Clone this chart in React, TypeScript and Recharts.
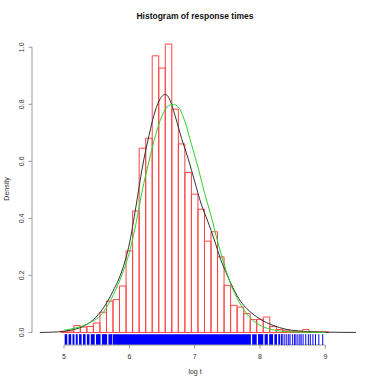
import { ComposedChart, Line, XAxis, YAxis, ReferenceArea, ReferenceLine } from "recharts";

// histogram of log t, bin width 0.1 (values are densities)
const binCenters = [
  5.0, 5.1, 5.2, 5.3, 5.4, 5.5, 5.6, 5.7, 5.8, 5.9,
  6.0, 6.1, 6.2, 6.3, 6.4, 6.5, 6.6, 6.7, 6.8, 6.9,
  7.0, 7.1, 7.2, 7.3, 7.4, 7.5, 7.6, 7.7, 7.8, 7.9,
  8.0, 8.1, 8.2, 8.3, 8.4, 8.5, 8.6, 8.7, 8.8, 8.9, 9.0,
];
const binDensity = [
  0.004, 0.005, 0.024, 0.019, 0.021, 0.033, 0.071, 0.11, 0.115, 0.163,
  0.286, 0.426, 0.646, 0.681, 0.97, 0.927, 1.011, 0.783, 0.661, 0.561,
  0.485, 0.432, 0.32, 0.353, 0.265, 0.165, 0.095, 0.089, 0.066, 0.045,
  0.046, 0.054, 0.021, 0.01, 0.008, 0.004, 0.004, 0.01, 0.003, 0.002, 0.002,
];
const binWidth = 0.1;

// kernel density estimate (black)
const kdeX = [
  4.63, 4.9, 5.1, 5.3, 5.45, 5.6, 5.75, 5.9, 6.0, 6.1, 6.2, 6.3, 6.4, 6.5, 6.55,
  6.6, 6.7, 6.8, 6.9, 7.0, 7.1, 7.2, 7.3, 7.4, 7.5, 7.6, 7.7, 7.8, 7.9, 8.0,
  8.2, 8.4, 8.6, 8.8, 9.0, 9.47,
];
const kdeY = [
  0.0, 0.002, 0.008, 0.022, 0.045, 0.085, 0.145, 0.225, 0.31, 0.44, 0.58, 0.69, 0.78, 0.828, 0.835,
  0.825, 0.76, 0.68, 0.61, 0.53, 0.45, 0.39, 0.325, 0.255, 0.2, 0.15, 0.11, 0.083, 0.063, 0.047,
  0.025, 0.011, 0.005, 0.002, 0.001, 0.0,
];

// fitted normal density (green)
const normX = [
  5.0, 5.2, 5.4, 5.6, 5.75, 5.9, 6.0, 6.1, 6.2, 6.3, 6.4, 6.5, 6.6, 6.67, 6.75,
  6.85, 6.95, 7.05, 7.15, 7.25, 7.35, 7.45, 7.55, 7.65, 7.8, 8.0, 8.15, 8.3, 8.6, 9.0,
];
const normY = [
  0.008, 0.017, 0.035, 0.07, 0.13, 0.21, 0.28, 0.38, 0.5, 0.6, 0.69, 0.76, 0.795, 0.8, 0.79,
  0.74, 0.66, 0.58, 0.49, 0.41, 0.32, 0.24, 0.17, 0.12, 0.065, 0.025, 0.012, 0.005, 0.001, 0.0,
];

// rug: solid stretches and single marks
const rugSpans: [number, number][] = [
  [5.01, 5.05], [5.07, 5.11], [5.13, 5.16], [5.18, 5.21], [5.23, 5.27], [5.29, 5.33],
  [5.35, 5.39], [5.41, 5.47], [5.49, 5.56], [5.58, 5.66], [5.68, 5.74], [5.75, 7.86],
  [7.88, 7.95], [7.97, 8.05], [8.07, 8.12], [8.14, 8.2], [8.22, 8.26], [8.28, 8.31],
];
const rugTicks = [
  8.33, 8.35, 8.38, 8.41, 8.44, 8.46, 8.5, 8.53, 8.55, 8.58, 8.61, 8.63, 8.66, 8.7,
  8.74, 8.77, 8.81, 8.85, 8.9, 8.96,
];

const xTicks = [5, 6, 7, 8, 9];
const yTicks = [0, 0.2, 0.4, 0.6, 0.8, 1.0];

const X_DOMAIN: [number, number] = [4.51, 9.5];
const Y_DOMAIN: [number, number] = [-0.044, 1.05];
const RUG_TOP = -0.006;
const FONT = "'Liberation Sans', Arial, sans-serif";
const AXIS_GREY = "#9a9a9a";
const LABEL_GREY = "#333";

const kdeData = kdeX.map((x, i) => ({ x, y: kdeY[i] }));
const normData = normX.map((x, i) => ({ x, y: normY[i] }));

function XTick(props: any) {
  const { x, y, payload } = props;
  return (
    <g>
      <line x1={x} y1={y} x2={x} y2={y + 3.5} stroke={AXIS_GREY} />
      <text x={x} y={y + 11} textAnchor="middle" dominantBaseline="central" fontSize={7} fill={LABEL_GREY} fontFamily={FONT}>
        {payload.value}
      </text>
    </g>
  );
}

function YTick(props: any) {
  const { x, y, payload } = props;
  const tx = x - 10.5;
  return (
    <g>
      <line x1={x} y1={y} x2={x - 3.5} y2={y} stroke={AXIS_GREY} />
      <text
        x={tx}
        y={y}
        textAnchor="middle"
        dominantBaseline="central"
        transform={`rotate(-90 ${tx} ${y})`}
        fontSize={7}
        fill={LABEL_GREY}
        fontFamily={FONT}
      >
        {Number(payload.value).toFixed(1)}
      </text>
    </g>
  );
}

export default function App() {
  return (
    <div style={{ position: "fixed", left: 0, top: 0, width: 374, height: 385, background: "#fff" }}>
      <div
        style={{
          position: "absolute", left: 0, top: 11, width: 390, textAlign: "center",
          fontFamily: FONT, fontWeight: "bold", fontSize: 8.5, color: "#111",
        }}
      >
        Histogram of response times
      </div>
      <div
        style={{
          position: "absolute", left: 7 - 40, top: 189 - 6, width: 80, height: 12, lineHeight: "12px",
          textAlign: "center", transform: "rotate(-90deg)", fontFamily: FONT, fontSize: 7, color: LABEL_GREY,
        }}
      >
        Density
      </div>
      <div
        style={{
          position: "absolute", left: 155, top: 366, width: 80, height: 12, lineHeight: "12px",
          textAlign: "center", fontFamily: FONT, fontSize: 7, color: LABEL_GREY,
        }}
      >
        log t
      </div>
      <ComposedChart width={374} height={385} margin={{ top: 33, right: 16, bottom: 0, left: 0 }}>
        <XAxis
          type="number"
          dataKey="x"
          domain={X_DOMAIN}
          ticks={xTicks}
          interval={0}
          allowDataOverflow
          axisLine={false}
          tickLine={false}
          tickSize={0}
          tickMargin={0}
          height={40}
          tick={<XTick />}
        />
        <YAxis
          type="number"
          domain={Y_DOMAIN}
          ticks={yTicks}
          interval={0}
          allowDataOverflow
          axisLine={false}
          tickLine={false}
          tickSize={0}
          tickMargin={0}
          width={32}
          tick={<YTick />}
        />
        {/* R-style axis lines spanning only the tick range */}
        <ReferenceLine
          segment={[{ x: X_DOMAIN[0], y: 0 }, { x: X_DOMAIN[0], y: 1 }]}
          stroke={AXIS_GREY}
          ifOverflow="visible"
        />
        <ReferenceLine
          segment={[{ x: 5, y: Y_DOMAIN[0] }, { x: 9, y: Y_DOMAIN[0] }]}
          stroke={AXIS_GREY}
          ifOverflow="visible"
        />
        {binCenters.map((c, i) => (
          <ReferenceArea
            key={`bin-${c}`}
            x1={c - binWidth / 2}
            x2={c + binWidth / 2}
            y1={0}
            y2={binDensity[i]}
            fill="none"
            stroke="#ff4444"
            strokeWidth={1}
            ifOverflow="visible"
          />
        ))}
        {rugSpans.map(([a, b]) => (
          <ReferenceArea
            key={`rug-${a}`}
            x1={a}
            x2={b}
            y1={Y_DOMAIN[0]}
            y2={RUG_TOP}
            fill="#0000ff"
            fillOpacity={1}
            stroke="none"
            ifOverflow="visible"
          />
        ))}
        {rugTicks.map((t) => (
          <ReferenceLine
            key={`tick-${t}`}
            segment={[{ x: t, y: RUG_TOP }, { x: t, y: Y_DOMAIN[0] }]}
            stroke="#0000ff"
            ifOverflow="visible"
          />
        ))}
        <Line
          data={kdeData}
          dataKey="y"
          type="monotone"
          stroke="#333"
          strokeWidth={1}
          dot={false}
          isAnimationActive={false}
        />
        <Line
          data={normData}
          dataKey="y"
          type="monotone"
          stroke="#2fcf2f"
          strokeWidth={1}
          dot={false}
          isAnimationActive={false}
        />
      </ComposedChart>
    </div>
  );
}
